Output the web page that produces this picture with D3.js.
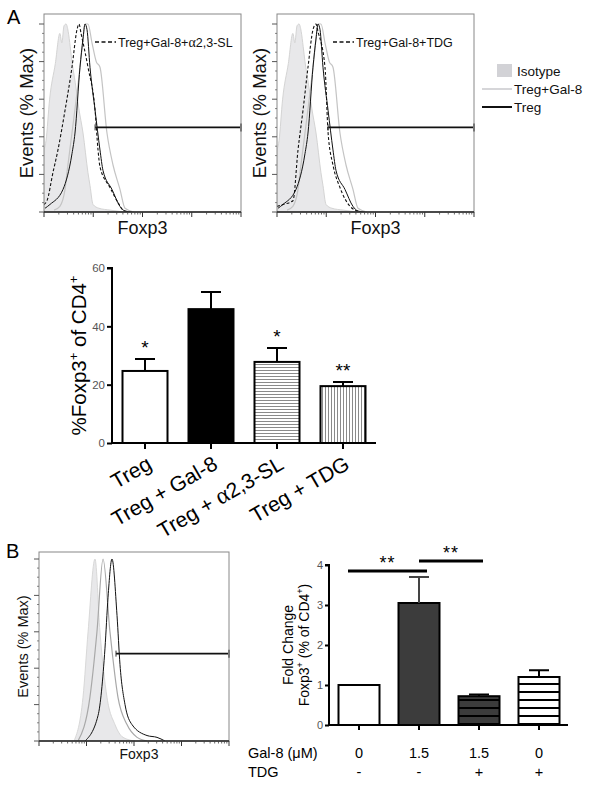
<!DOCTYPE html>
<html><head><meta charset="utf-8">
<script src="https://cdn.jsdelivr.net/npm/d3@7"></script>
<style>body{margin:0;background:#fff}</style>
</head><body>
<svg id="fig" width="601" height="785" xmlns="http://www.w3.org/2000/svg"></svg>
<script>
// ---------------- DATA ----------------
// Flow histograms: [Foxp3 intensity, % of max]
const isotypeA = [[1,33],[1.1,38],[1.3,60],[1.7,79],[2.1,95],[2.3,90],[2.55,99],[2.8,100],[3.1,96],[3.4,88],[3.7,80],[4.3,69],[5.1,55],[6.2,42],[7.8,21],[8.6,14],[9.9,4],[13,2],[22,1],[42,0]];
const galA = [[1.6,1],[2.1,3],[2.67,12],[2.93,21],[3.7,42],[5.38,77],[6.19,92],[6.8,100],[7.82,100],[9.43,90],[11.5,80],[13.7,77],[19,42],[25.2,25],[34.9,12],[44.1,2],[67,0]];
const tregA = [[1.05,2],[1.32,4],[2.43,12],[3.7,31],[4.26,42],[5.38,77],[6.19,92],[6.8,100],[7.47,97],[8.59,77],[10.9,54],[13.7,33],[15.8,22],[24,12],[34.9,3],[44.1,0.5],[60,0]];
const slA = [[1,4],[1.15,6],[1.52,21],[1.92,33],[2.67,54],[3.7,77],[4.68,97],[5.14,100],[5.65,95],[7.82,77],[10.9,54],[12.5,33],[13.7,24],[21.9,13],[31.8,5],[40.2,1],[53,0]];
const tdgA = [[1,3],[1.32,4],[2.11,6],[2.67,33],[3.37,54],[4.26,77],[5.38,97],[6.19,100],[6.8,96],[9.43,77],[10.9,42],[13.7,25],[19,13],[30.4,3],[38.5,1],[53,0]];
const isotypeB = [[5.46,0],[8.44,24],[10.8,60],[15.1,100],[19.2,60],[27,24],[39.8,9],[58.7,2],[105,0]];
const galB = [[6.62,0],[11.8,24],[16.6,60],[22.3,100],[31.2,60],[46,24],[71.2,9],[116,2],[188,0]];
const tregB = [[9.3,0],[17.5,14],[24.5,51],[28.4,79],[34.4,100],[43.9,69],[50.7,42],[64.7,20],[90.8,9],[188,3],[305,2],[449,0]];
const gateA = [10.9, 10000, 45];   // from, to, level (% max)
const gateB = [41.8, 10000, 48];
const histMajorTicks = [1,10,100,1000,10000];

// Bar chart A
const catsA = ["Treg","Treg + Gal-8","Treg + α2,3-SL","Treg + TDG"];
const meanA = [24.7,45.9,27.8,19.5];
const errA = [4.1,5.9,4.8,1.4];
const starsA = ["*","","*","**"];
const ticksA = [0,20,40,60];

// Bar chart B
const gal8B = ["0","1.5","1.5","0"];
const tdgB = ["-","-","+","+"];
const meanB = [1.0,3.05,0.72,1.2];
const errB = [0,0.65,0.04,0.17];
const ticksB = [0,1,2,3,4];
const sigB = [[0,1,3.85,"**"],[1,2,4.1,"**"]];

// ---------------- DRAW ----------------
const FONT = "'Liberation Sans', Arial, Helvetica, sans-serif";
const SERIF = "'Liberation Serif', 'DejaVu Serif', serif";
const svg = d3.select('#fig').style('font-family', FONT);
const defs = svg.append('defs');

function pattern(id, w, h, bg, lines) {
  const p = defs.append('pattern').attr('id', id).attr('patternUnits','userSpaceOnUse').attr('width', w).attr('height', h);
  p.append('rect').attr('width', w).attr('height', h).attr('fill', bg);
  lines.forEach(l => p.append('line').attr('x1', l[0]).attr('y1', l[1]).attr('x2', l[2]).attr('y2', l[3]).attr('stroke', l[4]).attr('stroke-width', l[5]));
}
pattern('hstripe', 6, 3, '#fff', [[0,1.5,6,1.5,'#8a8a8a',1]]);
pattern('vstripe', 3, 6, '#fff', [[1.5,0,1.5,6,'#8a8a8a',1]]);
pattern('hdark', 6, 8, '#3c3c3c', [[0,4,6,4,'#000',2]]);
pattern('hwhite', 6, 8, '#fff', [[0,4,6,4,'#000',2]]);

function alphaText(t, s, alphaSize) {
  s.split(/(α)/).forEach(part => {
    if (!part) return;
    const ts = t.append('tspan').text(part);
    if (part === 'α') ts.attr('font-family', SERIF).attr('font-size', alphaSize);
  });
}

function histogram(o) {
  const x = d3.scaleLog().domain([1,1e4]).range([o.x0, o.x1]);
  const y = d3.scaleLinear().domain([0,100]).range([o.bottom, o.y100]);
  const g = svg.append('g');
  const cid = 'clip' + o.id;
  defs.append('clipPath').attr('id', cid).append('rect')
    .attr('x', o.x0).attr('y', o.top).attr('width', o.x1 - o.x0).attr('height', o.bottom - o.top);
  const cg = g.append('g').attr('clip-path', `url(#${cid})`);
  const area = d3.area().curve(d3.curveMonotoneX).x(d => x(d[0])).y0(y(0)).y1(d => y(d[1]));
  const line = d3.line().curve(d3.curveMonotoneX).x(d => x(d[0])).y(d => y(d[1]));
  cg.append('path').datum(o.iso).attr('d', area).attr('fill', '#e8e8ea').attr('stroke', o.isoStroke).attr('stroke-width', 1);
  cg.append('path').datum(o.gal).attr('d', line).attr('fill', 'none').attr('stroke', o.galColor).attr('stroke-width', 1.2);
  cg.append('path').datum(o.treg).attr('d', line).attr('fill', 'none').attr('stroke', '#111').attr('stroke-width', 1);
  if (o.dash) cg.append('path').datum(o.dash).attr('d', line).attr('fill', 'none').attr('stroke', '#111').attr('stroke-width', 1.1).attr('stroke-dasharray', '3,2');
  // frame
  g.append('rect').attr('x', o.x0).attr('y', o.top).attr('width', o.x1 - o.x0).attr('height', o.bottom - o.top)
    .attr('fill', 'none').attr('stroke', '#888').attr('stroke-width', 1);
  g.append('line').attr('x1', o.x0).attr('x2', o.x1).attr('y1', o.bottom).attr('y2', o.bottom).attr('stroke', '#222').attr('stroke-width', 1.3);
  // x ticks (log)
  const minor = [];
  histMajorTicks.slice(0, -1).forEach(m => { for (let k = 2; k < 10; k++) minor.push(m * k); });
  g.selectAll(null).data(histMajorTicks).enter().append('line')
    .attr('x1', d => x(d)).attr('x2', d => x(d)).attr('y1', o.bottom).attr('y2', o.bottom + 5).attr('stroke', '#333');
  g.selectAll(null).data(minor).enter().append('line')
    .attr('x1', d => x(d)).attr('x2', d => x(d)).attr('y1', o.bottom).attr('y2', o.bottom + 2.5).attr('stroke', '#444').attr('stroke-width', 0.8);
  // y ticks
  const yt = d3.range(0, 101, 5);
  g.selectAll(null).data(yt).enter().append('line')
    .attr('x1', d => d % 20 === 0 ? o.x0 - 5 : o.x0 - 2).attr('x2', o.x0)
    .attr('y1', d => y(d)).attr('y2', d => y(d)).attr('stroke', '#555').attr('stroke-width', d => d % 20 === 0 ? 1 : 0.7);
  // gate
  const gx0 = x(o.gate[0]), gx1 = x(o.gate[1]), gy = y(o.gate[2]);
  g.append('line').attr('x1', gx0).attr('x2', gx1).attr('y1', gy).attr('y2', gy).attr('stroke', '#111').attr('stroke-width', 1.6);
  [gx0, gx1].forEach((gx, i) => g.append('line').attr('x1', gx).attr('x2', gx).attr('y1', gy - (i ? 4 : 3)).attr('y2', gy + (i ? 4 : 3))
    .attr('stroke', i ? '#777' : '#333').attr('stroke-width', i ? 2 : 1));
  // labels
  g.append('text').attr('transform', `translate(${o.x0 - 11},${(o.top + o.bottom) / 2}) rotate(-90)`)
    .attr('text-anchor', 'middle').attr('font-size', o.ylabSize).attr('fill', '#111').text('Events (% Max)');
  g.append('text').attr('x', (o.x0 + o.x1) / 2 + o.xlabDx).attr('y', o.xlabY).attr('text-anchor', 'middle')
    .attr('font-size', o.xlabSize).attr('fill', '#111').text('Foxp3');
  if (o.legend) {
    g.append('line').attr('x1', o.legend.x).attr('x2', o.legend.x + 21).attr('y1', o.legend.y).attr('y2', o.legend.y)
      .attr('stroke', '#111').attr('stroke-width', 1.6).attr('stroke-dasharray', '4,2.5');
    const t = g.append('text').attr('x', o.legend.x + 23).attr('y', o.legend.y + 4.5).attr('font-size', 12.5).attr('fill', '#111');
    alphaText(t, o.legend.text, 14);
  }
}

histogram({id:'a1', x0:44, x1:241, top:14, bottom:212, y100:24, iso:isotypeA, gal:galA, treg:tregA, dash:slA,
  isoStroke:'#d4d4d4', galColor:'#c4c4c4', gate:gateA, ylabSize:18.5, xlabSize:18, xlabY:234, xlabDx:0,
  legend:{x:95, y:42, text:'Treg+Gal-8+α2,3-SL'}});
histogram({id:'a2', x0:277, x1:474, top:14, bottom:212, y100:24, iso:isotypeA, gal:galA, treg:tregA, dash:tdgA,
  isoStroke:'#d4d4d4', galColor:'#c4c4c4', gate:gateA, ylabSize:18.5, xlabSize:18, xlabY:234, xlabDx:0,
  legend:{x:333, y:42, text:'Treg+Gal-8+TDG'}});
histogram({id:'b1', x0:39, x1:229, top:552, bottom:741, y100:559, iso:isotypeB, gal:galB, treg:tregB, dash:null,
  isoStroke:'#d8d8d8', galColor:'#a8a8a8', gate:gateB, ylabSize:14.5, xlabSize:14, xlabY:759, xlabDx:5, legend:null});

// shared legend
const lg = svg.append('g').attr('font-size', 13.5).attr('fill', '#111');
lg.append('rect').attr('x', 497).attr('y', 64).attr('width', 15).attr('height', 13).attr('fill', '#d2d2d6');
lg.append('text').attr('x', 517).attr('y', 76).text('Isotype');
lg.append('line').attr('x1', 482).attr('x2', 512).attr('y1', 89).attr('y2', 89).attr('stroke', '#c8c8cc').attr('stroke-width', 1.5);
lg.append('text').attr('x', 514).attr('y', 94).text('Treg+Gal-8');
lg.append('line').attr('x1', 482).attr('x2', 512).attr('y1', 107).attr('y2', 107).attr('stroke', '#111').attr('stroke-width', 2);
lg.append('text').attr('x', 514).attr('y', 112).text('Treg');

// panel letters
svg.append('text').attr('x', 7).attr('y', 24).attr('font-size', 20).text('A');
svg.append('text').attr('x', 6).attr('y', 558).attr('font-size', 20).text('B');

// ---------- Bar chart A ----------
{
  const x = d3.scalePoint().domain(catsA).range([112, 376]).padding(0.5);
  const y = d3.scaleLinear().domain([0, 60]).range([443, 268]);
  const bw = 45;
  const g = svg.append('g');
  const fills = ['#fff', '#000', 'url(#hstripe)', 'url(#vstripe)'];
  g.selectAll(null).data(catsA).enter().append('rect')
    .attr('x', d => x(d) - bw / 2).attr('y', (d, i) => y(meanA[i])).attr('width', bw).attr('height', (d, i) => y(0) - y(meanA[i]))
    .attr('fill', (d, i) => fills[i]).attr('stroke', '#000').attr('stroke-width', 2);
  g.selectAll(null).data(catsA).enter().append('path')
    .attr('d', (d, i) => `M${x(d)},${y(meanA[i])}V${y(meanA[i] + errA[i])}M${x(d) - 10},${y(meanA[i] + errA[i])}H${x(d) + 10}`)
    .attr('stroke', '#000').attr('stroke-width', 2).attr('fill', 'none');
  g.selectAll(null).data(catsA).enter().append('text')
    .attr('x', d => x(d)).attr('y', (d, i) => y(meanA[i] + errA[i]) - 5).attr('text-anchor', 'middle')
    .attr('font-size', 19).text((d, i) => starsA[i]);
  const ya = g.append('g').attr('transform', 'translate(112,0)').call(d3.axisLeft(y).tickValues(ticksA).tickSize(5).tickPadding(2));
  ya.select('.domain').attr('stroke-width', 2).attr('d', `M-5,${y(60)}H0V${y(0)}`);
  ya.selectAll('.tick line').attr('stroke-width', 2);
  ya.selectAll('.tick text').attr('font-size', 11.5).attr('fill', '#555').attr('font-family', FONT);
  g.append('line').attr('x1', 111).attr('x2', 376).attr('y1', y(0)).attr('y2', y(0)).attr('stroke', '#000').attr('stroke-width', 2);
  g.selectAll(null).data(catsA).enter().append('line')
    .attr('x1', d => x(d)).attr('x2', d => x(d)).attr('y1', y(0)).attr('y2', y(0) + 6).attr('stroke', '#000').attr('stroke-width', 2);
  const yl = g.append('text').attr('transform', `translate(86,${(y(0) + y(60)) / 2}) rotate(-90)`).attr('text-anchor', 'middle').attr('font-size', 20.5);
  yl.append('tspan').text('%Foxp3');
  yl.append('tspan').attr('font-size', 13).attr('dy', -8).text('+');
  yl.append('tspan').attr('dy', 8).text(' of CD4');
  yl.append('tspan').attr('font-size', 13).attr('dy', -8).text('+');
  g.selectAll(null).data(catsA).enter().append('text')
    .attr('transform', d => `translate(${x(d) + 8},468) rotate(-30)`).attr('text-anchor', 'end').attr('font-size', 21)
    .each(function (d) { alphaText(d3.select(this), d, 24); });
}

// ---------- Bar chart B ----------
{
  const idx = d3.range(meanB.length);
  const x = d3.scalePoint().domain(idx).range([329, 569]).padding(0.5);
  const y = d3.scaleLinear().domain([0, 4]).range([725, 565]);
  const bw = 41;
  const g = svg.append('g');
  const fills = ['#fff', '#3c3c3c', 'url(#hdark)', 'url(#hwhite)'];
  g.selectAll(null).data(idx).enter().append('rect')
    .attr('x', i => x(i) - bw / 2).attr('y', i => y(meanB[i])).attr('width', bw).attr('height', i => y(0) - y(meanB[i]))
    .attr('fill', i => fills[i]).attr('stroke', '#000').attr('stroke-width', 2);
  g.selectAll(null).data(idx.filter(i => errB[i] > 0)).enter().append('path')
    .attr('d', i => `M${x(i)},${y(meanB[i])}V${y(meanB[i] + errB[i])}M${x(i) - 10},${y(meanB[i] + errB[i])}H${x(i) + 10}`)
    .attr('stroke', i => i === 1 ? '#444' : '#000').attr('stroke-width', 2).attr('fill', 'none');
  const ya = g.append('g').attr('transform', 'translate(329,0)')
    .call(d3.axisLeft(y).tickValues(ticksB).tickFormat(d3.format('d')).tickSize(4).tickPadding(2));
  ya.select('.domain').attr('stroke-width', 2).attr('d', `M-4,${y(4)}H0V${y(0)}`);
  ya.selectAll('.tick line').attr('stroke-width', 2);
  ya.selectAll('.tick text').attr('font-size', 11).attr('fill', '#555').attr('font-family', FONT);
  g.append('line').attr('x1', 328).attr('x2', 568).attr('y1', y(0)).attr('y2', y(0)).attr('stroke', '#000').attr('stroke-width', 2);
  g.selectAll(null).data(idx).enter().append('line')
    .attr('x1', i => x(i)).attr('x2', i => x(i)).attr('y1', y(0)).attr('y2', y(0) + 5).attr('stroke', '#000').attr('stroke-width', 2);
  // significance
  const offs = [[-11, 8], [0, 4]];
  sigB.forEach((s, k) => {
    const xa = x(s[0]) + offs[k][0], xb = x(s[1]) + offs[k][1];
    g.append('line').attr('x1', xa).attr('x2', xb).attr('y1', y(s[2])).attr('y2', y(s[2])).attr('stroke', '#000').attr('stroke-width', 3);
    g.append('text').attr('x', (xa + xb) / 2).attr('y', y(s[2]) - 2).attr('text-anchor', 'middle').attr('font-size', 18)
      .attr('letter-spacing', 1).text(s[3]);
  });
  // y label
  g.append('text').attr('transform', `translate(293,645) rotate(-90)`).attr('text-anchor', 'middle').attr('font-size', 14).text('Fold Change');
  const yl2 = g.append('text').attr('transform', `translate(309,645) rotate(-90)`).attr('text-anchor', 'middle').attr('font-size', 14);
  yl2.append('tspan').text('Foxp3');
  yl2.append('tspan').attr('font-size', 9).attr('dy', -6).text('+');
  yl2.append('tspan').attr('dy', 6).text(' (% of CD4');
  yl2.append('tspan').attr('font-size', 9).attr('dy', -6).text('+');
  yl2.append('tspan').attr('dy', 6).text(')');
  // condition table
  g.append('text').attr('x', 248).attr('y', 758).attr('font-size', 14.5).text('Gal-8 (μM)');
  g.append('text').attr('x', 248).attr('y', 777).attr('font-size', 14.5).text('TDG');
  g.selectAll(null).data(idx).enter().append('text').attr('x', i => x(i)).attr('y', 758).attr('text-anchor', 'middle')
    .attr('font-size', 14.5).text(i => gal8B[i]);
  g.selectAll(null).data(idx).enter().append('text').attr('x', i => x(i)).attr('y', 777).attr('text-anchor', 'middle')
    .attr('font-size', 14.5).text(i => tdgB[i]);
}
</script>
</body></html>
